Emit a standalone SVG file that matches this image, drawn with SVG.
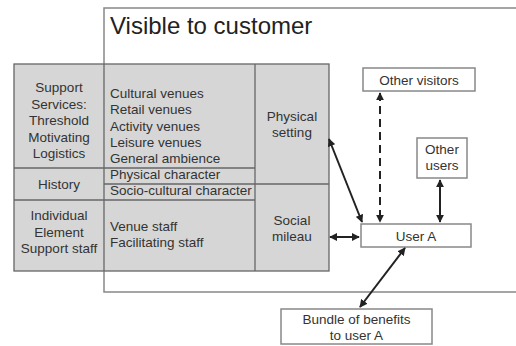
<svg xmlns="http://www.w3.org/2000/svg" width="516" height="346" viewBox="0 0 516 346">
  <style>
    .t { font-family: "Liberation Sans", Arial, sans-serif; font-size: 13.5px; fill: #333; }
    .c { text-anchor: middle; }
    .title { font-family: "Liberation Sans", Arial, sans-serif; font-size: 24px; fill: #222; }
    .box { fill: #fff; stroke: #888; stroke-width: 1.5; }
    .cell { fill: #d6d6d6; stroke: #666; stroke-width: 1.3; }
    .grid { stroke: #666; stroke-width: 1.3; fill: none; }
    .link { stroke: #222; stroke-width: 2; fill: none; marker-start: url(#ah); marker-end: url(#ah); }
    .dash { stroke-dasharray: 8 5; }
  </style>
  <defs>
    <marker id="ah" viewBox="0 0 10 10" refX="9" refY="5" markerWidth="4" markerHeight="4" orient="auto-start-reverse">
      <path d="M0,0 L10,5 L0,10 z" fill="#222"/>
    </marker>
  </defs>

  <!-- visible zone frame (open to the right) -->
  <g id="visible-zone">
    <path d="M516,8 H104 V292 H516" fill="none" stroke="#888" stroke-width="1.5"/>
    <text class="title" x="110" y="34">Visible to customer</text>
  </g>

  <!-- servicescape table -->
  <g id="table">
    <rect class="cell" x="14" y="64" width="315" height="207"/>
    <line class="grid" x1="104" y1="64" x2="104" y2="271"/>
    <line class="grid" x1="255" y1="64" x2="255" y2="271"/>
    <line class="grid" x1="14" y1="168" x2="255" y2="168"/>
    <line class="grid" x1="104" y1="184" x2="329" y2="184"/>
    <line class="grid" x1="14" y1="200" x2="255" y2="200"/>
  </g>

  <g id="support-services">
    <text class="t c" x="59" y="92">Support</text>
    <text class="t c" x="59" y="108.5">Services:</text>
    <text class="t c" x="59" y="125">Threshold</text>
    <text class="t c" x="59" y="141.5">Motivating</text>
    <text class="t c" x="59" y="158">Logistics</text>
  </g>
  <g id="venues">
    <text class="t" x="110" y="98">Cultural venues</text>
    <text class="t" x="110" y="114.3">Retail venues</text>
    <text class="t" x="110" y="130.6">Activity venues</text>
    <text class="t" x="110" y="146.9">Leisure venues</text>
    <text class="t" x="110" y="163.2">General ambience</text>
  </g>
  <g id="history">
    <text class="t c" x="59" y="189">History</text>
    <text class="t" x="110" y="179">Physical character</text>
    <text class="t" x="110" y="195">Socio-cultural character</text>
  </g>
  <g id="staff">
    <text class="t c" x="59" y="220">Individual</text>
    <text class="t c" x="59" y="236.5">Element</text>
    <text class="t c" x="59" y="253">Support staff</text>
    <text class="t" x="110" y="230.5">Venue staff</text>
    <text class="t" x="110" y="246.5">Facilitating staff</text>
  </g>
  <g id="physical-setting">
    <text class="t c" x="292" y="121">Physical</text>
    <text class="t c" x="292" y="137">setting</text>
  </g>
  <g id="social-mileau">
    <text class="t c" x="292" y="225">Social</text>
    <text class="t c" x="292" y="241">mileau</text>
  </g>

  <g id="other-visitors">
    <rect class="box" x="363" y="68" width="112" height="23"/>
    <text class="t c" x="419" y="84.5">Other visitors</text>
  </g>
  <g id="other-users">
    <rect class="box" x="417" y="138" width="50" height="40"/>
    <text class="t c" x="442" y="154">Other</text>
    <text class="t c" x="442" y="170">users</text>
  </g>
  <g id="user-a">
    <rect class="box" x="361" y="224" width="110" height="23"/>
    <text class="t c" x="416" y="240.5">User A</text>
  </g>
  <g id="bundle">
    <rect class="box" x="281" y="309" width="151" height="35"/>
    <text class="t c" x="356.5" y="323.5">Bundle of benefits</text>
    <text class="t c" x="356.5" y="340">to user A</text>
  </g>

  <!-- connectors -->
  <g id="connectors">
    <line class="link dash" x1="380" y1="93" x2="380" y2="222"/>
    <line class="link" x1="440" y1="180" x2="440" y2="222"/>
    <line class="link" x1="329" y1="139" x2="362" y2="222"/>
    <line class="link" x1="330" y1="237" x2="359" y2="237"/>
    <line class="link" x1="360" y1="307" x2="405" y2="248"/>
  </g>
</svg>
